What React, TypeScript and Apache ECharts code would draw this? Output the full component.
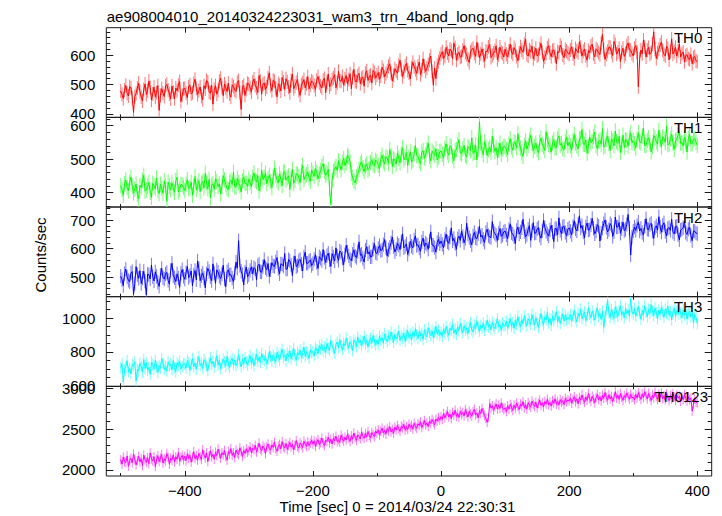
import React, { useEffect, useRef } from "react";
import * as echarts from "echarts";

// ---- data (counts/sec, 2 s bins starting at t = -500 s) ----
const TIME_START = -500;
const TIME_STEP = 2;

const TH0 = [
  478,466, 452,481, 497,470, 461,493, 489,455, 405,459, 470,488, 505,476, 458,444, 483,502, 466,479, 512,490, 447,468, 491,457, 473,496, 412,463, 486,471, 459,495, 501,482, 468,451, 495,474, 452,488, 479,498, 510,442, 463,485,
  487,471, 455,492, 499,468, 472,503, 518,487, 466,479, 492,460, 448,496, 485,514, 509,474, 471,498, 433,483, 496,467, 480,511, 522,490, 462,502, 489,476, 505,468, 457,499, 493,481, 476,507, 514,472, 415,491, 497,463, 483,504,
  502,489, 474,508, 519,497, 488,473, 531,512, 467,501, 505,484, 492,522, 540,496, 479,515, 511,487, 458,503, 497,478, 524,509, 483,520, 509,491, 472,514, 536,486, 495,507, 518,480, 463,498, 506,517, 488,503, 527,485, 499,512,
  508,497, 483,515, 527,506, 495,488, 514,521, 472,509, 536,492, 501,517, 523,534, 489,506, 545,513, 511,528, 498,519, 531,502, 517,537, 486,524, 552,511, 509,530, 538,503, 521,526, 494,539, 547,514, 528,532, 505,548, 541,522,
  532,541, 518,529, 559,548, 526,537, 547,562, 571,540, 512,531, 554,546, 539,566, 583,551, 527,544, 563,572, 548,539, 519,557, 576,561, 551,538, 562,577, 534,549, 588,563, 545,556, 569,583, 597,545, 498,556, 520,566, 578,591,
  604,612, 589,597, 627,608, 598,621, 615,589, 641,626, 583,604, 610,593, 596,617, 633,609, 602,586, 575,611, 619,624, 607,596, 644,618, 591,605, 622,599, 580,614, 612,628, 637,592, 599,607, 616,632, 585,601, 628,611, 606,594,
  621,603, 594,615, 638,611, 603,626, 617,596, 581,608, 629,618, 610,637, 655,602, 597,619, 612,631, 588,605, 624,597, 602,622, 641,610, 579,593, 607,625, 633,608, 595,616, 618,599, 571,612, 609,634, 626,601, 592,620, 614,607,
  603,618, 629,604, 588,623, 615,609, 646,627, 597,613, 621,598, 583,616, 609,631, 638,605, 594,622, 617,609, 602,641, 672,619, 586,603, 613,628, 627,612, 599,647, 636,604, 611,624, 578,610, 624,596, 605,633, 642,619, 617,606,
  598,624, 633,611, 492,586, 618,605, 652,629, 594,617, 627,603, 608,638, 680,621, 589,609, 620,635, 645,616, 603,598, 631,623, 584,612, 656,604, 612,627, 597,615, 639,594, 605,611, 578,599, 602,588, 585,603, 571,592, 596,581,
  578,
];

const TH1 = [
  421,409, 392,427, 438,415, 405,432, 447,418, 399,411, 426,395, 381,422, 415,437, 452,404, 408,419, 431,401, 386,428, 420,412, 444,407, 397,425, 413,398, 435,420, 374,431, 418,409, 429,414, 401,436, 446,402, 410,425, 423,416,
  406,425, 439,412, 415,431, 392,419, 448,408, 421,436, 403,427, 433,414, 458,429, 411,440, 384,422, 427,410, 442,433, 418,426, 397,419, 451,438, 425,412, 409,431, 437,424, 461,417, 416,443, 430,421, 402,435, 447,428, 428,419,
  441,430, 418,446, 459,437, 432,451, 405,424, 468,439, 446,458, 427,441, 452,433, 415,447, 473,452, 438,429, 456,441, 421,460, 463,437, 444,450, 409,443, 470,428, 436,456, 455,447, 429,463, 481,439, 448,454, 462,445, 433,468,
  458,449, 472,461, 441,455, 466,478, 487,463, 452,459, 470,412, 365,437, 463,471, 478,466, 495,483, 468,490, 502,481, 489,511, 507,493, 458,445, 436,429, 447,455, 470,486, 492,474, 463,479, 486,468, 472,490, 499,484, 480,497,
  493,482, 471,499, 512,494, 486,507, 503,488, 529,510, 478,501, 497,485, 518,503, 489,515, 534,498, 505,520, 481,506, 522,492, 498,517, 541,511, 509,495, 487,521, 526,503, 513,530, 548,509, 495,524, 519,512, 531,498, 507,522,
  524,515, 503,532, 546,521, 512,540, 537,509, 495,526, 529,544, 558,519, 516,531, 541,512, 507,538, 533,525, 564,517, 520,542, 498,530, 612,548, 527,513, 552,536, 511,529, 536,520, 569,541, 523,534, 505,527, 548,515, 531,539,
  538,529, 514,545, 561,537, 527,552, 549,534, 576,548, 533,519, 508,541, 555,530, 541,557, 572,546, 526,538, 548,529, 519,551, 563,544, 537,526, 582,557, 544,539, 521,548, 559,533, 535,561, 570,542, 547,531, 528,553, 566,540,
  551,540, 527,556, 574,548, 539,531, 560,562, 589,545, 544,557, 518,538, 566,549, 553,567, 581,541, 532,553, 557,544, 591,536, 541,559, 569,547, 526,561, 555,540, 584,552, 547,568, 520,543, 572,535, 558,556, 539,564, 578,549,
  556,547, 533,560, 579,552, 548,569, 593,541, 541,556, 564,549, 522,538, 571,563, 552,545, 587,558, 536,567, 561,550, 598,543, 545,561, 575,549, 529,555, 558,572, 583,547, 550,539, 566,553, 521,562, 574,545, 547,558, 562,551,
  541,
];

const TH2 = [
  504,492, 471,513, 528,501, 489,484, 515,520, 440,478, 537,509, 496,523, 478,497, 521,486, 438,511, 509,494, 543,502, 487,519, 503,482, 468,507, 531,498, 494,511, 517,489, 476,524, 549,505, 498,485, 512,497, 465,514, 527,503,
  493,516, 538,499, 506,522, 470,508, 524,491, 557,531, 488,505, 515,497, 463,512, 531,520, 502,488, 547,514, 479,526, 518,503, 496,511, 542,494, 467,519, 526,508, 509,497, 484,515, 553,532, 628,541, 521,509, 473,518, 536,502,
  509,524, 536,513, 534,529, 491,541, 546,519, 518,537, 562,533, 527,548, 503,526, 551,540, 538,554, 569,531, 512,547, 545,539, 583,528, 529,562, 557,543, 506,551, 574,537, 541,558, 563,546, 522,571, 588,549, 549,556, 560,541,
  548,563, 579,551, 531,572, 566,558, 597,569, 552,576, 584,561, 538,583, 571,557, 603,574, 559,592, 587,566, 544,579, 612,588, 575,563, 558,581, 596,574, 569,590, 624,577, 581,566, 553,595, 607,582, 589,571, 572,598, 618,586,
  583,601, 611,593, 596,614, 632,604, 574,596, 605,621, 641,607, 589,599, 618,612, 597,625, 652,603, 608,617, 580,598, 626,609, 603,631, 645,611, 614,602, 591,624, 637,608, 620,615, 598,627, 659,613, 612,604, 588,622, 633,617,
  627,615, 604,632, 651,624, 619,640, 673,627, 636,618, 598,635, 644,629, 662,643, 621,636, 689,651, 639,628, 613,645, 657,638, 635,652, 678,641, 647,633, 622,657, 668,646, 641,639, 695,661, 653,647, 629,655, 671,643, 648,659,
  662,648, 635,667, 687,656, 651,642, 618,664, 676,651, 659,673, 703,660, 642,649, 668,681, 629,663, 691,654, 655,669, 674,647, 637,662, 699,675, 661,652, 644,666, 682,658, 625,671, 670,649, 708,664, 653,677, 679,657, 646,668,
  673,661, 649,678, 698,669, 662,686, 715,672, 681,658, 638,677, 690,665, 667,683, 706,671, 652,662, 684,679, 627,655, 672,688, 701,674, 659,667, 688,681, 643,659, 711,676, 676,692, 654,670, 693,663, 668,685, 720,672, 578,641,
  662,676, 664,681, 694,662, 671,657, 648,679, 705,668, 667,684, 689,661, 636,673, 680,665, 712,676, 658,682, 691,660, 645,671, 674,664, 703,658, 652,677, 679,649, 631,665, 668,673, 697,657, 650,668, 676,646, 628,662, 661,655,
  652,
];

const TH3 = [
  708, 731, 625, 694, 712, 749, 683, 703, 671, 726, 719, 742, 628, 697, 688, 733, 715, 681, 756, 702, 737, 690, 709, 668, 741, 724, 698, 752, 711, 679, 720, 705, 761, 733, 696, 714, 687, 742, 718, 729, 694, 751, 707, 683, 738, 721, 746, 699, 714, 731,
  729, 704, 752, 738, 691, 726, 761, 712, 735, 698, 744, 772, 719, 731, 703, 755, 741, 716, 689, 734, 767, 728, 745, 710, 738, 779, 722, 749, 701, 733, 758, 741, 716, 774, 729, 708, 747, 763, 725, 752, 719, 738, 785, 744, 712, 756, 731, 768, 742, 723,
  751, 779, 733, 762, 718, 757, 786, 744, 769, 738, 792, 761, 749, 777, 729, 758, 803, 771, 746, 784, 763, 741, 798, 775, 752, 789, 816, 768, 781, 747, 794, 772, 808, 759, 786, 822, 777, 751, 799, 783, 811, 768, 792, 829, 774, 801, 785, 762, 813, 796,
  803, 778, 826, 812, 791, 838, 817, 844, 806, 829, 797, 851, 822, 809, 868, 834, 818, 792, 845, 859, 827, 874, 839, 813, 851, 836, 882, 848, 823, 861, 844, 807, 872, 856, 831, 889, 853, 869, 838, 862, 894, 847, 871, 829, 866, 881, 852, 898, 864, 843,
  871, 846, 893, 867, 884, 852, 907, 879, 861, 896, 874, 919, 886, 858, 903, 877, 892, 924, 869, 897, 881, 912, 863, 899, 928, 884, 906, 871, 917, 893, 938, 902, 879, 921, 896, 911, 874, 931, 905, 889, 943, 914, 897, 926, 883, 918, 951, 907, 929, 899,
  917, 893, 936, 909, 951, 922, 898, 941, 927, 962, 911, 934, 904, 948, 925, 969, 937, 914, 956, 929, 943, 908, 951, 974, 932, 918, 961, 937, 984, 946, 923, 958, 941, 972, 929, 953, 989, 947, 964, 931, 977, 952, 938, 969, 996, 948, 961, 927, 973, 954,
  956, 983, 941, 967, 998, 952, 974, 939, 988, 961, 1009, 973, 948, 991, 966, 1015, 979, 953, 997, 982, 964, 1021, 988, 959, 1003, 976, 946, 993, 1027, 981, 962, 1008, 989, 1034, 971, 996, 958, 1013, 985, 1002, 1039, 979, 1011, 968, 994, 1026, 983, 1017, 991, 1005,
  994, 1021, 983, 1012, 1046, 1003, 978, 1029, 1008, 1054, 997, 1019, 1037, 986, 1011, 1062, 1024, 1001, 1043, 1016, 989, 1035, 1058, 1009, 1027, 993, 1041, 945, 1013, 1049, 1108, 1031, 1004, 1052, 1021, 998, 1067, 1036, 1011, 1044, 1073, 1018, 1039, 1002, 1057, 1026, 1049, 1013, 1115, 1038,
  1024, 1057, 1011, 1038, 1069, 1029, 993, 1046, 1018, 1074, 1035, 1008, 1052, 1027, 1081, 1043, 1014, 1061, 1033, 997, 1048, 1022, 1065, 1039, 1006, 1054, 1028, 1071, 1017, 1041, 989, 1036, 1059, 1012, 1044, 1023, 1068, 1031, 1003, 1049, 1019, 1056, 994, 1027, 1042, 1008, 1035, 972, 1021, 1004,
  968,
];

const TH0123 = [
  2124, 2071, 2158, 2103, 2089, 2172, 2046, 2119, 2143, 2087, 2196, 2131, 2062, 2114, 2167, 2098, 2139, 2053, 2181, 2122, 2094, 2151, 2076, 2208, 2135, 2109, 2163, 2041, 2128, 2174, 2101, 2147, 2189, 2083, 2136, 2112, 2201, 2157, 2069, 2143, 2118, 2185, 2097, 2162, 2131, 2214, 2106, 2153, 2178, 2124,
  2167, 2113, 2198, 2142, 2181, 2096, 2158, 2224, 2137, 2176, 2119, 2203, 2161, 2128, 2247, 2184, 2145, 2209, 2103, 2172, 2236, 2159, 2193, 2131, 2218, 2174, 2256, 2197, 2142, 2211, 2183, 2238, 2164, 2119, 2227, 2195, 2262, 2178, 2213, 2151, 2244, 2206, 2187, 2271, 2225, 2163, 2238, 2202, 2259, 2216,
  2236, 2281, 2209, 2264, 2247, 2302, 2218, 2271, 2329, 2253, 2236, 2294, 2267, 2198, 2283, 2318, 2259, 2241, 2307, 2276, 2339, 2262, 2228, 2291, 2313, 2257, 2348, 2284, 2269, 2324, 2251, 2297, 2336, 2279, 2312, 2243, 2301, 2359, 2288, 2267, 2331, 2305, 2271, 2352, 2316, 2289, 2344, 2297, 2328, 2363,
  2316, 2357, 2289, 2341, 2372, 2308, 2333, 2391, 2326, 2298, 2364, 2347, 2402, 2331, 2376, 2318, 2389, 2358, 2413, 2344, 2371, 2337, 2426, 2383, 2352, 2401, 2366, 2437, 2391, 2348, 2419, 2375, 2452, 2398, 2361, 2428, 2407, 2379, 2463, 2414, 2387, 2446, 2402, 2471, 2423, 2392, 2458, 2431, 2409, 2476,
  2448, 2491, 2427, 2473, 2512, 2452, 2486, 2438, 2509, 2474, 2531, 2463, 2497, 2448, 2526, 2489, 2544, 2503, 2471, 2537, 2512, 2558, 2486, 2529, 2493, 2561, 2522, 2547, 2498, 2573, 2531, 2508, 2566, 2543, 2589, 2519, 2557, 2604, 2548, 2576, 2531, 2598, 2569, 2617, 2582, 2553, 2624, 2597, 2641, 2608,
  2652, 2619, 2691, 2638, 2674, 2716, 2647, 2683, 2628, 2706, 2669, 2731, 2654, 2692, 2641, 2718, 2677, 2703, 2661, 2739, 2695, 2648, 2721, 2684, 2657, 2712, 2743, 2673, 2698, 2636, 2726, 2689, 2752, 2704, 2667, 2629, 2583, 2641, 2812, 2757, 2786, 2731, 2769, 2808, 2745, 2792, 2752, 2821, 2763, 2738,
  2759, 2714, 2786, 2742, 2803, 2768, 2727, 2794, 2751, 2819, 2776, 2738, 2807, 2782, 2836, 2759, 2798, 2743, 2824, 2791, 2767, 2843, 2802, 2776, 2829, 2758, 2812, 2857, 2789, 2821, 2771, 2838, 2806, 2864, 2794, 2827, 2781, 2849, 2815, 2872, 2803, 2838, 2792, 2861, 2825, 2847, 2799, 2876, 2834, 2858,
  2843, 2881, 2816, 2862, 2897, 2834, 2871, 2809, 2889, 2853, 2918, 2864, 2827, 2893, 2851, 2936, 2872, 2839, 2904, 2868, 2821, 2887, 2926, 2859, 2897, 2842, 2913, 2876, 2948, 2884, 2853, 2921, 2869, 2902, 2836, 2891, 2957, 2878, 2917, 2862, 2934, 2889, 2851, 2911, 2879, 2943, 2896, 2864, 2925, 2882,
  2891, 2857, 2924, 2878, 2946, 2903, 2862, 2931, 2887, 2958, 2906, 2869, 2937, 2893, 2848, 2917, 2881, 2952, 2898, 2864, 2926, 2884, 2941, 2873, 2907, 2856, 2929, 2889, 2846, 2912, 2868, 2934, 2893, 2851, 2918, 2877, 2902, 2839, 2896, 2861, 2921, 2872, 2843, 2894, 2858, 2881, 2720, 2805, 2867, 2829,
  2818,
];

// approximate 1-sigma error bar half-lengths (counts/sec) per band
const ERRORS = [24, 23, 25, 34, 58];

const PANEL_NAMES = ["TH0", "TH1", "TH2", "TH3", "TH0123"];
const SERIES_VALUES = [TH0, TH1, TH2, TH3, TH0123];
const Y_RANGES: [number, number][] = [
  [388, 694],
  [357, 625],
  [432, 746],
  [597, 1127],
  [1926, 3023],
];
const Y_LABELS = [
  [400, 500, 600],
  [400, 500, 600],
  [500, 600, 700],
  [600, 800, 1000],
  [2000, 2500, 3000],
];
const Y_MINOR_STEP = [20, 20, 20, 50, 100];
const X_RANGE: [number, number] = [-522.5, 422.5];
const X_MAJOR = [-400, -200, 0, 200, 400];
const X_MINOR = [-500, -300, -100, 100, 300];

const TITLE = "ae908004010_20140324223031_wam3_trn_4band_long.qdp";
const X_TITLE = "Time [sec] 0 = 2014/03/24 22:30:31";
const Y_TITLE = "Counts/sec";

// ---- style ----
const COLORS = ["#ff0000", "#00ff00", "#0000ff", "#00ffff", "#ff00ff"];
const LIGHT = ["#ff7676", "#76ff76", "#7676ff", "#76ffff", "#ff76ff"];
const FONT = "'Liberation Sans', Arial, Helvetica, sans-serif";
const FS = 15;
const GRID_LEFT = 106.3;
const GRID_WIDTH = 605.4;
const GRID_TOP = 27.7;
const PANEL_H = 89.66;
const FRAME = "#1a1a1a";

function multiples(step: number, lo: number, hi: number) {
  const out: number[] = [];
  for (let v = Math.ceil(lo / step) * step; v <= hi; v += step) out.push(v);
  return out;
}

function fmtX(v: number) {
  return v < 0 ? "\u2212" + Math.abs(v) : String(v);
}
function fmtY(v: number) {
  return String(v);
}

function buildOption() {
  const grid: any[] = [];
  const xAxis: any[] = [];
  const yAxis: any[] = [];
  const series: any[] = [];
  const graphic: any[] = [];

  SERIES_VALUES.forEach((vals, i) => {
    const top = GRID_TOP + i * PANEL_H;
    grid.push({
      left: GRID_LEFT,
      width: GRID_WIDTH,
      top,
      height: PANEL_H,
      show: true,
      borderColor: FRAME,
      borderWidth: 1,
      backgroundColor: "transparent",
    });

    const tickStyle = { color: FRAME, width: 1 };
    const baseX = {
      type: "value",
      gridIndex: i,
      min: X_RANGE[0],
      max: X_RANGE[1],
      axisLine: { show: false, onZero: false },
      splitLine: { show: false },
      axisLabel: { show: false },
    };
    xAxis.push({
      ...baseX,
      position: "bottom",
      axisTick: { show: true, inside: true, length: 5, customValues: X_MAJOR, lineStyle: tickStyle },
      axisLabel:
        i === SERIES_VALUES.length - 1
          ? {
              show: true,
              customValues: X_MAJOR,
              margin: 7,
              fontFamily: FONT,
              fontSize: FS,
              color: "#000",
              formatter: fmtX,
            }
          : { show: false },
    });
    xAxis.push({
      ...baseX,
      position: "top",
      axisTick: { show: true, inside: true, length: 5, customValues: X_MAJOR, lineStyle: tickStyle },
    });
    xAxis.push({
      ...baseX,
      position: "bottom",
      axisTick: { show: true, inside: true, length: 3, customValues: X_MINOR, lineStyle: tickStyle },
    });
    xAxis.push({
      ...baseX,
      position: "top",
      axisTick: { show: true, inside: true, length: 3, customValues: X_MINOR, lineStyle: tickStyle },
    });

    const [ymin, ymax] = Y_RANGES[i];
    const minor = multiples(Y_MINOR_STEP[i], ymin, ymax);
    const baseY = {
      type: "value",
      gridIndex: i,
      min: ymin,
      max: ymax,
      axisLine: { show: false, onZero: false },
      splitLine: { show: false },
      axisLabel: { show: false },
    };
    yAxis.push({
      ...baseY,
      position: "left",
      axisTick: { show: true, inside: true, length: 7, customValues: Y_LABELS[i], lineStyle: tickStyle },
      axisLabel: {
        show: true,
        customValues: Y_LABELS[i],
        margin: 11,
        fontFamily: FONT,
        fontSize: FS,
        color: "#000",
        formatter: fmtY,
      },
    });
    yAxis.push({
      ...baseY,
      position: "right",
      axisTick: { show: true, inside: true, length: 7, customValues: Y_LABELS[i], lineStyle: tickStyle },
    });
    yAxis.push({
      ...baseY,
      position: "left",
      axisTick: { show: true, inside: true, length: 4, customValues: minor, lineStyle: tickStyle },
    });
    yAxis.push({
      ...baseY,
      position: "right",
      axisTick: { show: true, inside: true, length: 4, customValues: minor, lineStyle: tickStyle },
    });

    const data = vals.map((v, j) => [TIME_START + j * TIME_STEP, v]);
    const err = ERRORS[i];
    const light = LIGHT[i];
    series.push({
      type: "custom",
      xAxisIndex: 4 * i,
      yAxisIndex: 4 * i,
      data,
      silent: true,
      clip: true,
      z: 2,
      renderItem: (_p: any, api: any) => {
        const t = api.value(0);
        const v = api.value(1);
        const a = api.coord([t, v - err]);
        const b = api.coord([t, v + err]);
        return {
          type: "line",
          shape: { x1: a[0], y1: a[1], x2: b[0], y2: b[1] },
          style: { stroke: light, lineWidth: 1 },
        };
      },
    });
    series.push({
      type: "line",
      xAxisIndex: 4 * i,
      yAxisIndex: 4 * i,
      data,
      symbol: "none",
      silent: true,
      clip: true,
      z: 3,
      lineStyle: { color: COLORS[i], width: 1 },
    });

    graphic.push({
      type: "text",
      x: i === 4 ? 708 : 702.3,
      y: top + 10,
      z: 100,
      style: {
        text: PANEL_NAMES[i],
        fill: "#000",
        fontFamily: FONT,
        fontSize: FS,
        align: "right",
        verticalAlign: "middle",
      },
    });
  });

  graphic.push({
    type: "text",
    x: 106.7,
    y: 16.5,
    style: { text: TITLE, fill: "#000", fontFamily: FONT, fontSize: FS, align: "left", verticalAlign: "middle" },
  });
  graphic.push({
    type: "text",
    x: 397.5,
    y: 506.5,
    style: { text: X_TITLE, fill: "#000", fontFamily: FONT, fontSize: FS, align: "center", verticalAlign: "middle" },
  });
  graphic.push({
    type: "text",
    x: 40.5,
    y: 255,
    rotation: Math.PI / 2,
    style: { text: Y_TITLE, fill: "#000", fontFamily: FONT, fontSize: FS, align: "center", verticalAlign: "middle" },
  });

  return {
    animation: false,
    backgroundColor: "#ffffff",
    grid,
    xAxis,
    yAxis,
    series,
    graphic,
  };
}

export default function App() {
  const ref = useRef<HTMLDivElement>(null);
  useEffect(() => {
    document.body.style.margin = "0";
    const chart = echarts.init(ref.current as HTMLDivElement, null, { renderer: "svg" });
    chart.setOption(buildOption() as any);
    return () => chart.dispose();
  }, []);
  return (
    <div
      ref={ref}
      style={{ position: "fixed", left: 0, top: 0, width: 722, height: 516, background: "#fff" }}
    />
  );
}
